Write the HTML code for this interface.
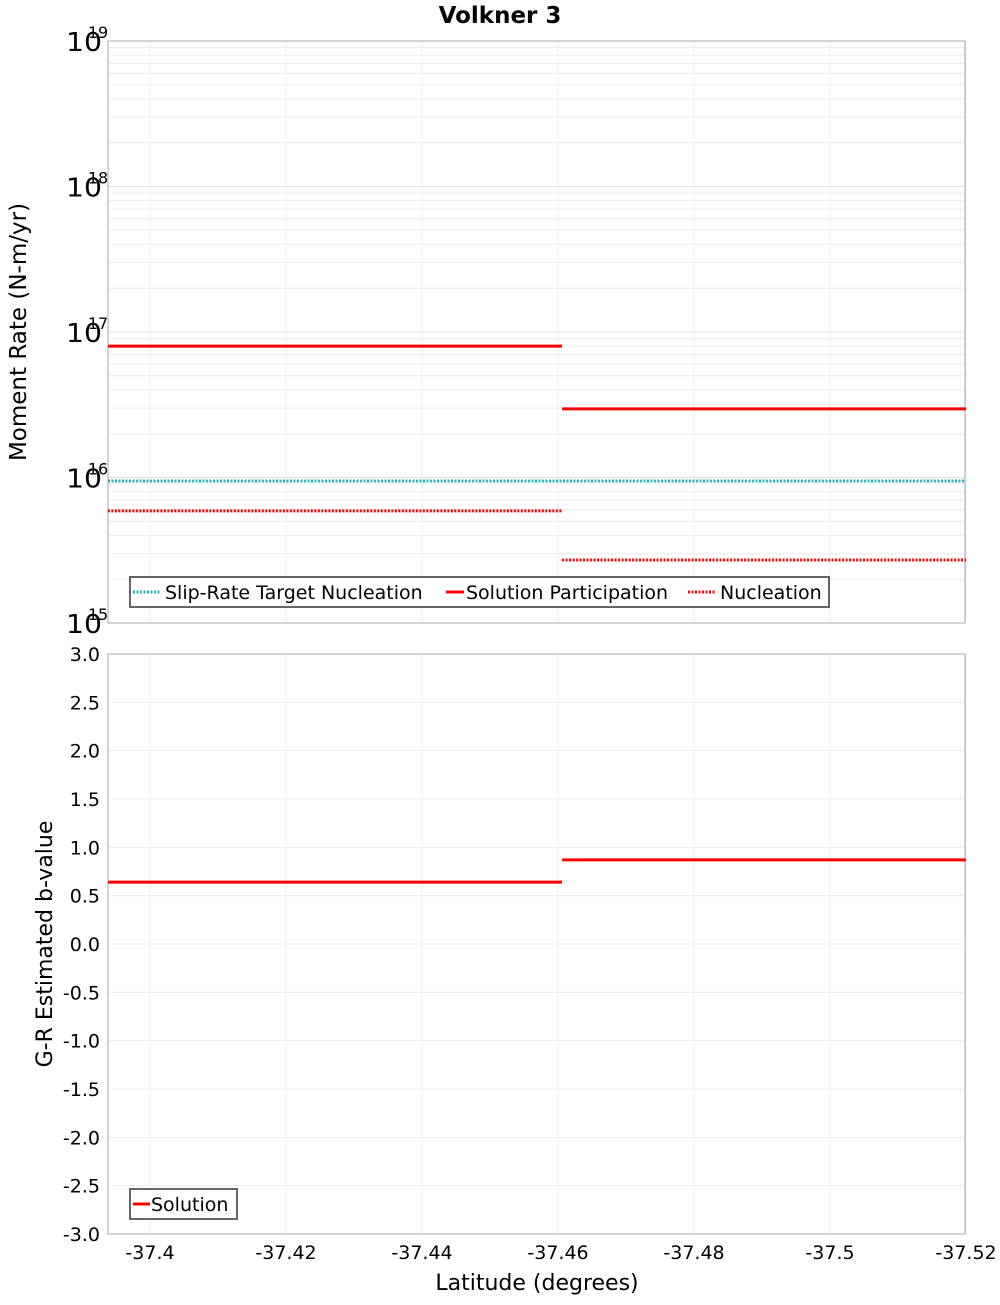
<!DOCTYPE html>
<html><head><meta charset="utf-8"><style>
body{margin:0;background:#fff}
svg text{font-family:"DejaVu Sans","Liberation Sans",sans-serif}
</style></head><body>
<svg id="c" width="1000" height="1300" xmlns="http://www.w3.org/2000/svg">
<text x="500" y="23" text-anchor="middle" font-size="23" font-weight="bold">Volkner 3</text>
<g id="g"></g>
</svg>
<script>
const xTicks=[-37.4,-37.42,-37.44,-37.46,-37.48,-37.5,-37.52];
const xTickLabels=["-37.4","-37.42","-37.44","-37.46","-37.48","-37.5","-37.52"];
const segStarts=[-37.3938,-37.4606];
const segEnds=[-37.4606,-37.52];
const participation=[8.0e16,2.96e16];
const nucleation=[5.9e15,2.71e15];
const targetNucleation=[9.46e15];
const bValues=[0.64,0.87];
const logTicks=[15,16,17,18,19];
const bTicks=[-3,-2.5,-2,-1.5,-1,-0.5,0,0.5,1,1.5,2,2.5,3];

const NS="http://www.w3.org/2000/svg";
const g=document.getElementById('g');
function el(t,a,txt){const e=document.createElementNS(NS,t);for(const k in a)e.setAttribute(k,a[k]);if(txt!==undefined)e.textContent=txt;g.appendChild(e);return e;}
const L=108,R=965,T1=41,B1=623,T2=654,B2=1234;
const xs=v=>150+(-37.4-v)*6800;
const y1=v=>T1+(19-Math.log10(v))*(B1-T1)/4;
const y2=v=>T2+(3-v)*(B2-T2)/6;

for(let d=15;d<19;d++)for(let m=2;m<10;m++){const y=y1(m*Math.pow(10,d));
 const e=el('line',{x1:L,x2:R,y1:y,y2:y,stroke:'#ececec','stroke-width':1});
 }
logTicks.forEach(d=>{const y=y1(Math.pow(10,d));
 const e=el('line',{x1:L,x2:R,y1:y,y2:y,stroke:'#e4e4e4'});
 const t=el('text',{x:84,y:y+10,'font-size':26,'text-anchor':'middle','textLength':36,'lengthAdjust':'spacingAndGlyphs'},'10');
 const s=el('text',{x:98,y:y-3,'font-size':16,'text-anchor':'middle'},String(d));});
bTicks.forEach(v=>{const y=y2(v);
 const e=el('line',{x1:L,x2:R,y1:y,y2:y,stroke:'#ececec'});
 const t=el('text',{x:100,y:y+7,'font-size':19,'text-anchor':'end'},v.toFixed(1));});
xTicks.forEach((v,i)=>{const x=xs(v);
 [[T1,B1],[T2,B2]].forEach(p=>{const e=el('line',{x1:x,x2:x,y1:p[0],y2:p[1],stroke:'#ececec'});});
 const t=el('text',{x:x,y:1259,'font-size':19,'text-anchor':'middle'},xTickLabels[i]);});
[[T1,B1],[T2,B2]].forEach(p=>{const e=el('rect',{x:L,y:p[0],width:R-L,height:p[1]-p[0],fill:'none',stroke:'#aaa'});});

const tn=el('line',{x1:L,x2:R,y1:y1(targetNucleation[0]),y2:y1(targetNucleation[0]),stroke:'#1fb3b8','stroke-width':3,'stroke-dasharray':'2,1.5'});

for(let i=0;i<segStarts.length;i++){
 let e=el('line',{x1:xs(segStarts[i]),x2:xs(segEnds[i]),y1:y1(participation[i]),y2:y1(participation[i]),stroke:'#f00','stroke-width':3});
 
 e=el('line',{x1:xs(segStarts[i]),x2:xs(segEnds[i]),y1:y1(nucleation[i]),y2:y1(nucleation[i]),stroke:'#f00','stroke-width':3,'stroke-dasharray':'2,1.5'});
 
 e=el('line',{x1:xs(segStarts[i]),x2:xs(segEnds[i]),y1:y2(bValues[i]),y2:y2(bValues[i]),stroke:'#f00','stroke-width':3});
 
}
</script>
<svg width="1000" height="1300" style="position:absolute;left:0;top:0" xmlns="http://www.w3.org/2000/svg">
<g>
<rect x="130" y="577" width="699" height="30" fill="#fff" stroke="#666" stroke-width="2"/>
<line x1="133" x2="161" y1="592" y2="592" stroke="#1fb3b8" stroke-width="3" stroke-dasharray="2,1.5"/>
<text x="165" y="599" font-size="19" font-family="DejaVu Sans,sans-serif">Slip-Rate Target Nucleation</text>
<line x1="446" x2="464" y1="592" y2="592" stroke="#f00" stroke-width="3"/>
<text x="466" y="599" font-size="19" font-family="DejaVu Sans,sans-serif">Solution Participation</text>
<line x1="688" x2="716" y1="592" y2="592" stroke="#f00" stroke-width="3" stroke-dasharray="2,1.5"/>
<text x="720" y="599" font-size="19" font-family="DejaVu Sans,sans-serif">Nucleation</text>
</g>
<g>
<rect x="130" y="1189" width="107" height="30" fill="#fff" stroke="#666" stroke-width="2"/>
<line x1="133" x2="150" y1="1204" y2="1204" stroke="#f00" stroke-width="3"/>
<text x="151" y="1211" font-size="19" font-family="DejaVu Sans,sans-serif">Solution</text>
</g>
<text transform="translate(26,332) rotate(-90)" text-anchor="middle" font-size="23" font-family="DejaVu Sans,sans-serif">Moment Rate (N-m/yr)</text>
<text transform="translate(52,944) rotate(-90)" text-anchor="middle" font-size="22" font-family="DejaVu Sans,sans-serif">G-R Estimated b-value</text>
<text x="537" y="1290" text-anchor="middle" font-size="22" font-family="DejaVu Sans,sans-serif">Latitude (degrees)</text>
</svg>
</body></html>
